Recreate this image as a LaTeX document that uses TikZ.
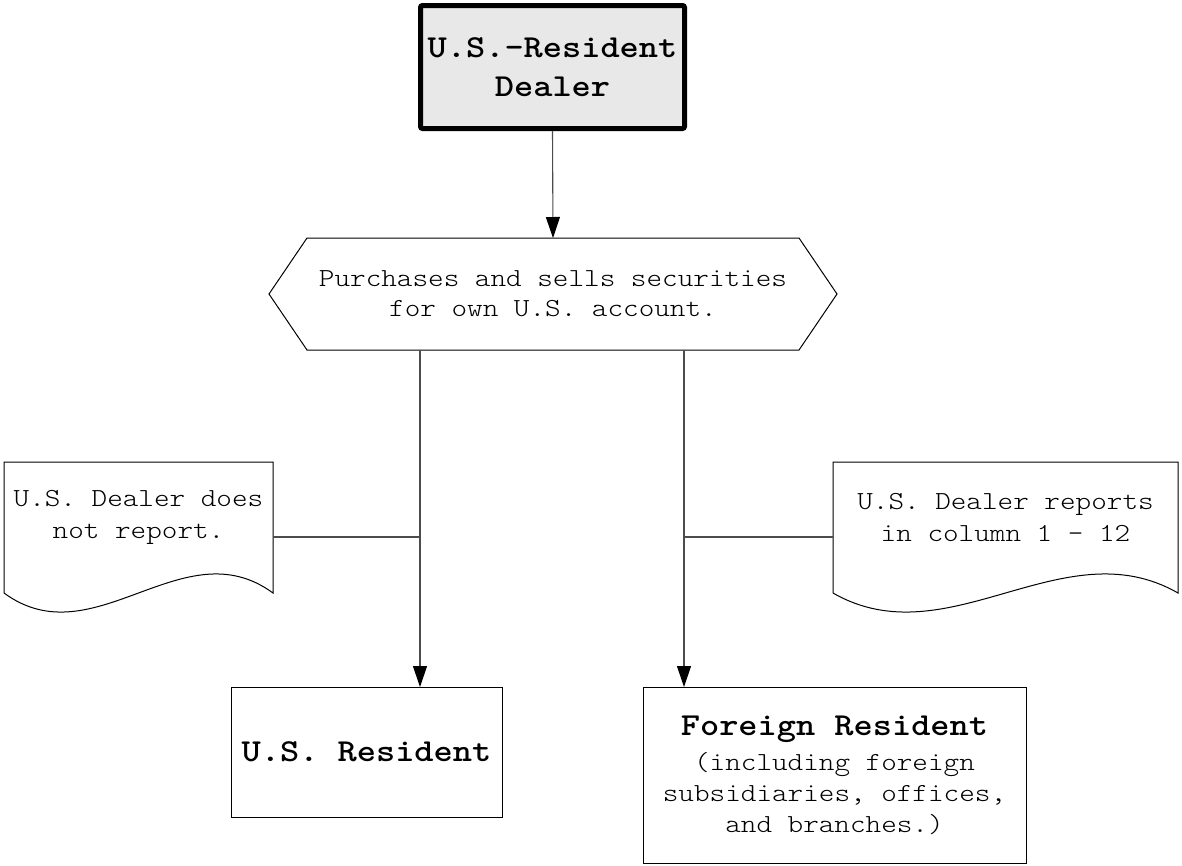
\documentclass[tikz,border=0pt]{standalone}
\usepackage{fontspec}
\setmainfont{lmmonolt10-regular.otf}[BoldFont=lmmonolt10-bold.otf, FakeStretch=1.143]
\usetikzlibrary{arrows.meta,calc}
\begin{document}
\begin{tikzpicture}[x=1pt,y=-1pt,
  conn/.style={draw=black!70, line width=1.1pt},
  arr/.style={conn, -{Triangle[length=21pt,width=14pt,color=black]}},
  dealerbox/.style={draw=black, line width=5pt, rounded corners=2pt, fill=black!9,
    minimum width=264pt, minimum height=123pt, align=center, inner sep=0pt,
    font=\bfseries\fontsize{32}{39}\selectfont},
  hexbox/.style={minimum width=492pt, minimum height=112pt, align=center, inner sep=0pt, outer sep=0pt,
    font=\fontsize{26}{30}\selectfont},
  hexline/.style={draw=black, line width=1pt},
  docarea/.style={minimum width=#1, minimum height=131pt, inner sep=0pt, outer sep=0pt},
  docline/.style={draw=black, line width=1pt},
  doctext/.style={align=center, inner sep=0pt, font=\fontsize{26}{32}\selectfont},
  resbox/.style={draw=black, line width=1pt, align=center, inner sep=0pt, outer sep=0pt,
    font=\fontsize{26}{31}\selectfont}
]
\useasboundingbox (0,0) rectangle (1182,865);
\fill[white] (0,0) rectangle (1182,865);

% top box
\node[dealerbox] (dealer) at (552.5,67) {U.S.-Resident\\Dealer};

% hexagon
\node[hexbox] (hex) at (553,294) {Purchases and sells securities\\for own U.S. account.};
\draw[hexline] (hex.north west) -- (hex.north east) -- ($(hex.east)+(38,0)$)
  -- (hex.south east) -- (hex.south west) -- ($(hex.west)+(-38,0)$) -- cycle;

\draw[arr] (dealer.south) -- (hex.north);

% documents
\node[docarea=269pt] (ldoc) at (138.5,527.5) {};
\draw[docline] (ldoc.north west) -- (ldoc.north east) -- (ldoc.south east)
  .. controls +(-90,-66) and +(90,66) .. (ldoc.south west) -- cycle;
\node[doctext] (ldoct) at ([yshift=10.5pt]ldoc.center) {U.S. Dealer does\\not report.};

\node[docarea=345pt] (rdoc) at (1005.5,527.5) {};
\draw[docline] (rdoc.north west) -- (rdoc.north east) -- (rdoc.south east)
  .. controls +(-115,-66) and +(115,66) .. (rdoc.south west) -- cycle;
\node[doctext] (rdoct) at ([yshift=10.5pt]rdoc.center) {U.S. Dealer reports\\in column 1 - 12};

% result boxes
\node[resbox, minimum width=271pt, minimum height=130pt] (usr) at (366.5,752)
  {\bfseries\fontsize{32}{38}\selectfont U.S. Resident};
\node[resbox, minimum width=383pt, minimum height=176pt] (forr) at (834.5,775)
  {{\bfseries\fontsize{32}{38}\selectfont Foreign Resident}\\[4pt](including foreign\\subsidiaries, offices,\\and branches.)};

% connectors
\coordinate (sl) at (420,350);
\coordinate (sr) at (684,350);
\coordinate (lj) at (420,537);
\coordinate (rj) at (684,537);
\draw[arr] (sl) -- (sl |- usr.north);
\draw[arr] (sr) -- (sr |- forr.north);
\draw[conn] (ldoc.east |- lj) -- (lj);
\draw[conn] (rj) -- (rdoc.west |- rj);
\end{tikzpicture}
\end{document}
